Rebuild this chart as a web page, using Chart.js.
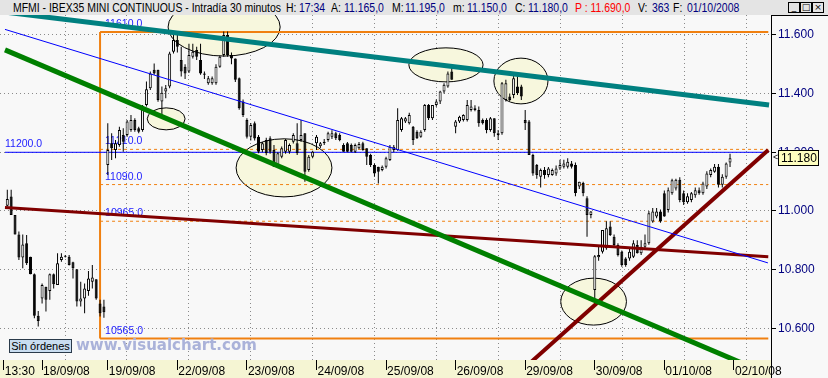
<!DOCTYPE html>
<html><head><meta charset="utf-8">
<script src="https://cdn.jsdelivr.net/npm/chart.js@4.4.0/dist/chart.umd.min.js"></script>
<style>
html,body{margin:0;padding:0;background:#f8f8f8;}
#wrap{position:relative;width:828px;height:378px;overflow:hidden;}
canvas{position:absolute;left:0;top:0;}
#title{position:absolute;left:0;top:0;width:828px;height:15px;background:#e4e4e4;z-index:3;font:12px "Liberation Sans",Arial,sans-serif;color:#000;}
#title span{position:absolute;top:1px;white-space:nowrap;transform:scaleX(0.87);transform-origin:0 0;}
#title .v{color:#000080}
#title .r{color:#ff0000}
.btn{position:absolute;top:2px;width:10px;height:9px;border:1px solid #000;background:#e4e4e4;font:9px "DejaVu Sans",sans-serif;line-height:9px;text-align:center;}
#sin{position:absolute;left:9px;top:339px;width:61px;height:12px;border:1px solid #2a3a4a;background:#c9ddf0;font:11px "Liberation Sans",Arial,sans-serif;line-height:12px;text-align:center;z-index:3;}
#wm{position:absolute;left:76px;top:336px;font:bold 15px "DejaVu Sans",sans-serif;color:#aab2d9;z-index:3;white-space:nowrap;}
</style></head>
<body>
<div id="wrap">
<div id="title">
<span style="left:13px">MFMI - IBEX35 MINI CONTINUOUS - Intradía 30 minutos</span>
<span style="left:286px">H:</span><span class="v" style="left:299px">17:34</span>
<span style="left:331px">A:</span><span class="v" style="left:344px">11.165,0</span>
<span style="left:392px">M:</span><span class="v" style="left:405px">11.195,0</span>
<span style="left:453px">m:</span><span class="v" style="left:467px">11.150,0</span>
<span style="left:515px">C:</span><span class="v" style="left:528px">11.180,0</span>
<span class="r" style="left:575px">P : 11.690,0</span>
<span style="left:638px">V:</span><span class="v" style="left:652px">363</span>
<span style="left:673px">F:</span><span class="v" style="left:687px">01/10/2008</span>
<div class="btn" style="left:788px">_</div><div class="btn" style="left:800px">□</div><div class="btn" style="left:812px">×</div>
</div>
<canvas id="c" width="828" height="378"></canvas>
<div id="sin">Sin órdenes</div>
<div id="wm">www.visualchart.com</div>
</div>
<script>
// ---- data: 30-minute candles, index = bar number (one line per session) ----
const open  = [
 11018,11049,10986,10920,10841,10890,10844,10784,10643,
 10702,10742,10727,10784,10748,10833,10844,10844,10825,10801,10691,10702,10727,10759,10767,10685,10674,
 11157,11231,11208,11225,11259,11259,11276,11310,11282,11276,11361,11418,11481,11481,11373,11407,11424,11543,
 11583,11515,11492,11475,11526,11549,11515,11469,11435,11435,11435,11492,11532,11600,11532,11520,11452,11373,
 11310,11253,11299,11253,11208,11242,11248,11208,11157,11185,11202,11202,11236,11231,11242,11265,11140,11185,
 11231,11221,11231,11242,11253,11265,11259,11225,11231,11225,11202,11214,11231,11214,11191,11157,11151,11140,
 11151,11174,11208,11208,11276,11305,11299,11287,11270,11253,11276,11361,11316,11361,11373,11407,11424,11475,
 11287,11305,11310,11310,11344,11350,11344,11310,11310,11276,11316,11265,11265,11378,11390,11395,11424,11424,
 11310,11305,11191,11157,11117,11140,11123,11123,11128,11145,11151,11151,11162,11157,11083,11095,11043,10986,
 10731,10842,10861,10873,10947,10912,10884,10861,10838,10838,10844,10884,10856,10878,10890,10964,10981,10998,
 11060,11003,11060,11077,11106,11060,11030,11037,11054,11071,11060,11083,11123,11134,11151,11089,11117,11165];
const high  = [
 11072,11072,10986,10930,10920,10918,10844,10787,10659,
 10753,10742,10787,10787,10856,10856,10850,10850,10827,10801,10759,10753,10795,10816,10767,10697,10697,
 11299,11265,11242,11287,11282,11310,11327,11316,11287,11361,11441,11475,11503,11481,11424,11429,11543,11600,
 11600,11560,11500,11570,11570,11560,11570,11475,11460,11458,11500,11530,11612,11612,11540,11520,11455,11380,
 11316,11300,11305,11259,11235,11250,11255,11225,11200,11220,11245,11230,11265,11299,11310,11265,11191,11205,
 11259,11235,11245,11270,11275,11270,11265,11231,11235,11230,11230,11235,11236,11214,11195,11162,11151,11155,
 11185,11225,11225,11350,11320,11320,11335,11290,11275,11275,11365,11365,11361,11380,11410,11435,11475,11492,
 11310,11325,11330,11378,11378,11360,11356,11315,11316,11320,11316,11276,11440,11447,11400,11469,11469,11430,
 11344,11310,11195,11160,11145,11150,11150,11145,11155,11175,11175,11180,11170,11165,11100,11100,11050,11000,
 10850,10880,10935,10965,10965,10920,10890,10865,10842,10870,10900,10900,10900,10920,11000,11010,11010,11005,
 11070,11080,11110,11110,11115,11070,11060,11065,11080,11080,11100,11135,11145,11160,11160,11125,11165,11195];
const low   = [
 11015,10986,10920,10833,10805,10816,10784,10634,10606,
 10685,10657,10697,10736,10748,10827,10841,10814,10770,10674,10674,10651,10711,10736,10697,10640,10636,
 11123,11174,11180,11219,11202,11253,11270,11270,11265,11270,11356,11412,11464,11372,11321,11384,11418,11537,
 11540,11458,11450,11470,11520,11515,11464,11450,11430,11430,11430,11488,11526,11526,11500,11440,11345,11320,
 11247,11240,11240,11197,11200,11190,11195,11151,11150,11180,11195,11195,11230,11191,11236,11100,11134,11180,
 11208,11215,11225,11236,11245,11242,11238,11202,11200,11200,11198,11210,11205,11157,11150,11117,11094,11135,
 11145,11170,11200,11205,11270,11300,11295,11225,11245,11250,11270,11310,11310,11355,11365,11400,11420,11447,
 11265,11300,11305,11305,11339,11340,11287,11295,11265,11270,11253,11242,11260,11373,11375,11384,11395,11378,
 11276,11191,11120,11110,11080,11110,11115,11120,11120,11140,11145,11145,11145,11050,11075,11050,10912,10975,
 10680,10830,10855,10868,10915,10880,10845,10810,10810,10830,10840,10855,10850,10870,10885,10960,10975,10960,
 10980,10995,11055,11070,11030,11020,11025,11030,11045,11055,11055,11075,11115,11130,11080,11080,11110,11150];
const close = [
 11041,10986,10920,10841,10886,10822,10784,10643,10625,
 10748,10697,10784,10750,10822,10844,10846,10816,10805,10691,10702,10736,10770,10773,10702,10651,10655,
 11208,11214,11231,11276,11236,11305,11310,11276,11270,11358,11415,11469,11469,11378,11403,11418,11537,11583,
 11560,11475,11469,11532,11543,11526,11469,11464,11452,11452,11492,11526,11600,11532,11520,11447,11350,11327,
 11253,11293,11247,11202,11231,11197,11202,11151,11197,11214,11242,11225,11259,11197,11259,11134,11185,11202,
 11253,11231,11236,11265,11265,11248,11242,11202,11202,11202,11225,11228,11208,11185,11157,11128,11134,11151,
 11180,11219,11219,11310,11316,11316,11327,11242,11248,11270,11361,11316,11361,11373,11407,11430,11469,11447,
 11305,11321,11327,11361,11356,11344,11299,11299,11276,11316,11265,11259,11435,11435,11378,11452,11401,11390,
 11299,11191,11128,11123,11140,11123,11145,11140,11145,11157,11162,11168,11151,11061,11100,11060,10986,10998,
 10846,10850,10935,10941,10918,10884,10850,10816,10816,10861,10890,10856,10878,10890,10992,10998,10998,10964,
 10981,11071,11105,11106,11037,11030,11050,11060,11071,11060,11094,11128,11140,11151,11089,11117,11162,11180];

// x-axis tick labels and the bar where each session starts
const xLabels  = ['13:30','18/09/08','19/09/08','22/09/08','23/09/08','24/09/08','25/09/08','26/09/08','29/09/08','30/09/08','01/10/08','02/10/08'];
const xTickPos = [-0.9, 9, 26, 44, 62, 80, 98, 116, 134, 152, 170, 188];
const yTicks   = [10600, 10800, 11000, 11200, 11400, 11600];

// drawn studies: [barIndex, price] endpoints
const tealLine   = [[-1.9, 11680], [197.1, 11361]];
const blueLine   = [[-0.6, 11619], [196.8, 10823]];
const greenLine  = [[-0.6, 11549], [190, 10482]];
const redFlat    = [[-0.6, 11012], [196.9, 10844]];
const redUp      = [[130, 10420], [196.9, 11208]];
const level11200 = [[-0.6, 11200], [196.9, 11200]];
// retracement block
const fibLevels = [11610, 11210, 11090, 10965, 10565];
const fibFrom = 24.0, fibTo = 196.9;
// highlighted zones: centre bar, centre price, half-width (bars), half-height (price)
const ellX  = [56.1, 41.1, 71.6, 113.5, 132.9, 151.7];
const ellY  = [11627, 11314, 11147, 11498, 11443, 10691];
const ellRx = [14.5, 4.9, 12.4, 9.6, 7.0, 8.5];
const ellRy = [99, 37.5, 99, 58, 78, 80];

// ---- build ----
const idx = open.map((_, i) => i);
const seg = p => p.map(q => ({x: q[0], y: q[1]}));
const lineDs = (pts, color, w, order, dash) => ({type:'line', data: seg(pts), borderColor: color, backgroundColor: color,
  borderWidth: w, pointRadius: 0, tension: 0, clip: 0, order: order, borderDash: dash || [], spanGaps: true});

const datasets = [
  {type:'bar', data: idx.map(i => ({x:i, y:[low[i], high[i]]})), backgroundColor:'#000', borderWidth:0,
   barThickness:1, grouped:false, order:3, inflateAmount:0},
  {type:'bar', data: idx.map(i => ({x:i, y:[open[i], close[i]]})),
   backgroundColor: idx.map(i => close[i] >= open[i] ? '#ffffff' : '#000000'),
   borderColor:'#000', borderWidth:1, borderSkipped:false, barThickness:3, minBarLength:1, grouped:false, order:2, inflateAmount:0},
  lineDs(tealLine, '#008080', 5, 0),
  lineDs(blueLine, '#0000ff', 1, 0),
  lineDs(greenLine, '#008000', 5, 0),
  lineDs(redFlat, '#800000', 3, 0),
  lineDs(redUp, '#800000', 4, 0),
  lineDs(level11200, '#0000ff', 1, 8),
  lineDs([[fibFrom, fibLevels[0]], [fibFrom, fibLevels[4]]], '#f08010', 2, 9)
];
fibLevels.forEach((lv, k) => {
  const solid = (k === 0 || k === fibLevels.length - 1);
  datasets.push(lineDs([[fibFrom, lv], [fibTo, lv]], '#f08010', solid ? 2 : 1, 9, solid ? [] : [3, 3]));
});

const deco = {
  id: 'deco',
  beforeDraw(chart) {
    const c = chart.ctx, a = chart.chartArea;
    c.save();
    c.fillStyle = '#f8f8f8'; c.fillRect(0, 0, chart.width, chart.height);
    c.fillStyle = '#f5f5d3'; c.fillRect(0, a.bottom, a.right, chart.height - a.bottom);
    c.restore();
  },
  beforeDatasetsDraw(chart) {
    const c = chart.ctx, a = chart.chartArea, xs = chart.scales.x, ys = chart.scales.y;
    c.save();
    c.beginPath(); c.rect(a.left, a.top, a.right - a.left, a.bottom - a.top); c.clip();
    ellX.forEach((ex, k) => {
      const cx = xs.getPixelForValue(ex), cy = ys.getPixelForValue(ellY[k]);
      const rx = Math.abs(xs.getPixelForValue(ex + ellRx[k]) - cx);
      const ry = Math.abs(ys.getPixelForValue(ellY[k] + ellRy[k]) - cy);
      c.beginPath(); c.ellipse(cx, cy, rx, ry, 0, 0, Math.PI * 2);
      c.fillStyle = '#f7f7dd'; c.fill();
      c.lineWidth = 1; c.strokeStyle = '#000'; c.stroke();
    });
    c.font = '10.5px "Liberation Sans", Arial, sans-serif';
    c.fillStyle = '#1c1cff'; c.textBaseline = 'alphabetic'; c.textAlign = 'left';
    const fx = xs.getPixelForValue(fibFrom);
    fibLevels.forEach(lv => c.fillText(lv.toFixed(1), fx + 5, ys.getPixelForValue(lv) - 5));
    c.fillText(level11200[0][1].toFixed(1), xs.getPixelForValue(level11200[0][0]), ys.getPixelForValue(level11200[0][1]) - 5);
    c.restore();
  },
  afterDraw(chart) {
    const c = chart.ctx, a = chart.chartArea, ys = chart.scales.y;
    c.save();
    c.strokeStyle = '#000'; c.lineWidth = 1;
    c.beginPath(); c.moveTo(Math.round(a.right) + 0.5, a.top); c.lineTo(Math.round(a.right) + 0.5, chart.height); c.stroke();
    c.beginPath(); c.moveTo(a.right, a.top + 0.5); c.lineTo(chart.width, a.top + 0.5); c.stroke();
    const last = close[close.length - 1];
    const py = Math.round(ys.getPixelForValue(last));
    c.fillStyle = '#ffffc0'; c.fillRect(a.right + 7.5, py - 7.5, 40, 15);
    c.strokeRect(a.right + 7.5, py - 7.5, 40, 15);
    c.fillStyle = '#000'; c.font = '12px "Liberation Sans", Arial, sans-serif';
    c.textBaseline = 'middle'; c.textAlign = 'left';
    c.fillText((last / 1000).toFixed(3), a.right + 10, py + 1);
    c.font = '9px "Liberation Sans", Arial, sans-serif';
    c.fillText('<', a.right + 2, py);
    c.restore();
  }
};

new Chart(document.getElementById('c'), {
  type: 'bar',
  data: { datasets },
  options: {
    responsive: false, animation: false, devicePixelRatio: 1,
    layout: { padding: { top: 15, left: 0, right: 0, bottom: 0 } },
    plugins: { legend: { display: false }, tooltip: { enabled: false } },
    scales: {
      x: {
        type: 'linear', position: 'bottom', min: -1.889, max: 197.6, offset: false,
        grid: { offset: false, drawOnChartArea: false, drawTicks: true, tickLength: 10, tickColor: '#000', tickWidth: 1 },
        border: { display: false },
        afterBuildTicks: s => { s.ticks = xTickPos.map(v => ({ value: v })); },
        afterFit: s => { s.height = 18; s.paddingLeft = 0; s.paddingRight = 0; },
        ticks: { autoSkip: false, maxRotation: 0, minRotation: 0, align: 'start', labelOffset: 1, padding: -6,
          color: '#000', font: { family: '"Liberation Sans", Arial, sans-serif', size: 12 },
          callback: (v, i) => xLabels[i] }
      },
      x2: {
        type: 'linear', position: 'top', min: -1.889, max: 197.6, offset: false,
        grid: { offset: false, drawTicks: false, color: '#8a8a8a', lineWidth: 1 },
        border: { display: false, dash: [1, 3] },
        afterBuildTicks: s => { const t = []; for (let v = 14.93; v < 197; v += 16.04) t.push({ value: v }); s.ticks = t; },
        afterFit: s => { s.height = 0; s.paddingLeft = 0; s.paddingRight = 0; },
        ticks: { display: false }
      },
      y: {
        type: 'linear', position: 'right', min: 10492, max: 11668,
        grid: { color: '#8a8a8a', lineWidth: 1, tickLength: 5, tickColor: '#000', tickWidth: 1, tickBorderDash: [] },
        border: { display: true, color: '#000', width: 1, dash: [1, 3] },
        afterBuildTicks: s => { s.ticks = yTicks.map(v => ({ value: v })); },
        afterFit: s => { s.width = 57; s.paddingTop = 0; s.paddingBottom = 0; },
        ticks: { color: '#000080', padding: 2, font: { family: '"Liberation Sans", Arial, sans-serif', size: 12 },
          callback: v => (v / 1000).toFixed(3) }
      }
    }
  },
  plugins: [deco]
});
</script>
</body></html>
